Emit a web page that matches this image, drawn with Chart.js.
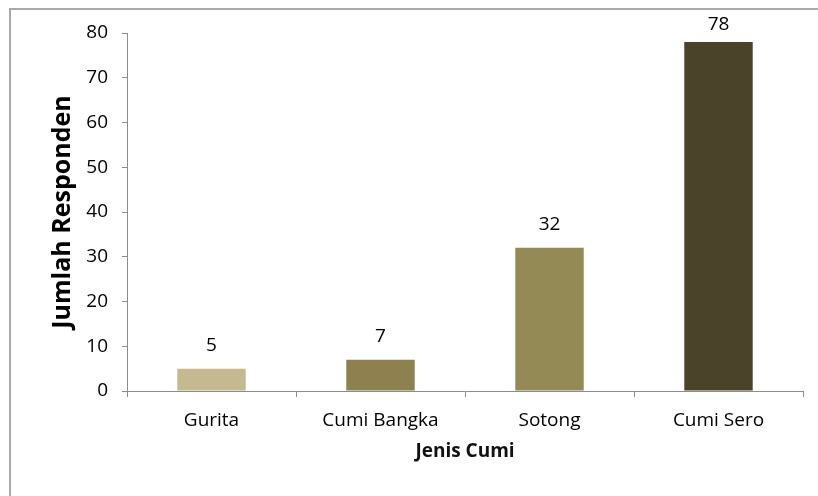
<!DOCTYPE html>
<html>
<head>
<meta charset="utf-8">
<script src="https://cdn.jsdelivr.net/npm/chart.js@4/dist/chart.umd.min.js"></script>
<style>
  html, body { margin: 0; padding: 0; background: #ffffff; }
  #wrap { width: 818px; height: 496px; position: relative; }
</style>
</head>
<body>
<div id="wrap"><canvas id="c" width="818" height="496"></canvas></div>
<script>
// Jumlah responden per jenis cumi
const categories = ['Gurita', 'Cumi Bangka', 'Sotong', 'Cumi Sero'];
const responden = [5, 7, 32, 78];
const barColors = ['#c5b991', '#8d8150', '#948a56', '#4b4329'];
const yTicks = [0, 10, 20, 30, 40, 50, 60, 70, 80];

const FONT = '"Open Sans", "DejaVu Sans", sans-serif';

// White page with a thin gray frame on the top and left edges
const framePlugin = {
  id: 'frame',
  beforeDraw(chart) {
    const ctx = chart.ctx;
    ctx.save();
    ctx.fillStyle = '#ffffff';
    ctx.fillRect(0, 0, chart.width, chart.height);
    ctx.strokeStyle = '#a9a9a9';
    ctx.lineWidth = 2;
    ctx.beginPath();
    ctx.moveTo(10, chart.height);
    ctx.lineTo(10, 9);
    ctx.lineTo(chart.width, 9);
    ctx.stroke();
    ctx.restore();
  }
};

// Value written above each bar (kept inside the frame for the tallest bar)
const valueLabels = {
  id: 'valueLabels',
  afterDatasetsDraw(chart) {
    const ctx = chart.ctx;
    const meta = chart.getDatasetMeta(0);
    ctx.save();
    ctx.font = '19px ' + FONT;
    ctx.fillStyle = '#000000';
    ctx.textAlign = 'center';
    ctx.textBaseline = 'middle';
    meta.data.forEach((bar, i) => {
      const y = Math.max(bar.y - 23, 25);
      ctx.fillText(String(chart.data.datasets[0].data[i]), bar.x, y);
    });
    ctx.restore();
  }
};

new Chart(document.getElementById('c'), {
  type: 'bar',
  data: {
    labels: categories,
    datasets: [{
      data: responden,
      backgroundColor: barColors,
      borderWidth: 0,
      categoryPercentage: 1.0,
      barPercentage: 0.405
    }]
  },
  options: {
    responsive: false,
    animation: false,
    devicePixelRatio: 1,
    layout: { padding: { left: 0, top: 33, right: 15, bottom: 0 } },
    plugins: {
      legend: { display: false },
      tooltip: { enabled: false }
    },
    scales: {
      x: {
        grid: {
          drawOnChartArea: false,
          drawTicks: true,
          tickLength: 6,
          color: '#8c8c8c',
          offset: true
        },
        border: { color: '#8c8c8c', width: 1 },
        ticks: {
          color: '#000000',
          font: { family: FONT, size: 19 },
          padding: 12
        },
        title: {
          display: true,
          text: 'Jenis Cumi',
          color: '#111111',
          font: { family: FONT, size: 19, weight: 'bold' },
          padding: { top: 0, bottom: 33 }
        },
        afterFit(scale) { scale.height = 105; }
      },
      y: {
        min: 0,
        max: 80,
        afterBuildTicks(scale) { scale.ticks = yTicks.map(v => ({ value: v })); },
        grid: {
          drawOnChartArea: false,
          drawTicks: true,
          tickLength: 5,
          color: '#8c8c8c'
        },
        border: { color: '#8c8c8c', width: 1 },
        ticks: {
          color: '#000000',
          font: { family: FONT, size: 19 },
          padding: 14
        },
        title: {
          display: true,
          text: 'Jumlah Responden',
          color: '#000000',
          font: { family: FONT, size: 25, weight: 'bold' },
          padding: { top: 48, bottom: 0 }
        },
        afterFit(scale) { scale.width = 127; }
      }
    }
  },
  plugins: [framePlugin, valueLabels]
});
</script>
</body>
</html>
